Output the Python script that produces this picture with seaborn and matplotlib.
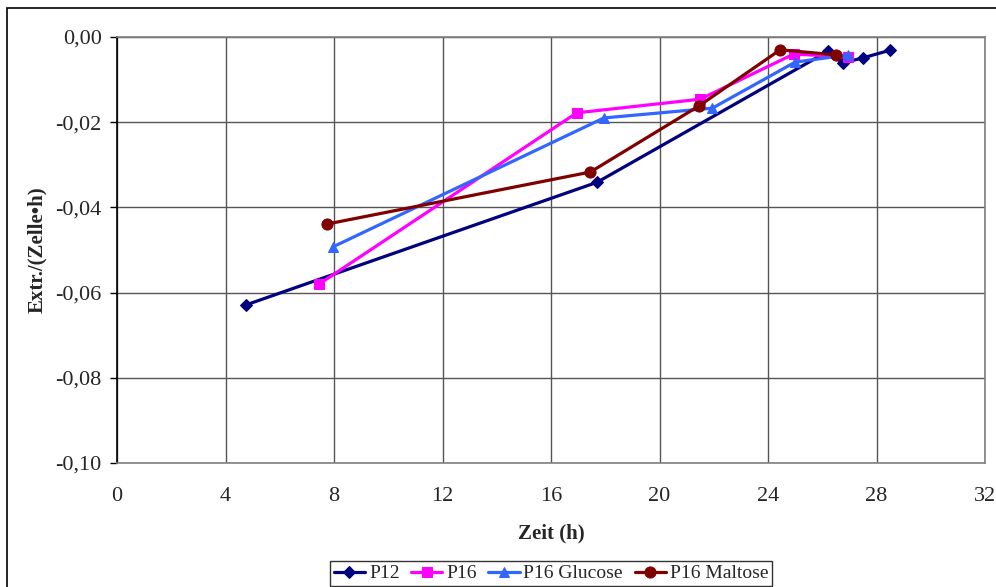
"""Extraction rate per cell over time for P12 / P16 cultures."""

import matplotlib.pyplot as plt
import pandas as pd
import seaborn as sns
from matplotlib.patches import Rectangle
from matplotlib.ticker import FuncFormatter, MultipleLocator

p12_t = [4.75, 17.7, 26.2, 26.75, 27.5, 28.5]
p12_v = [-0.0629, -0.0341, -0.0034, -0.0061, -0.0049, -0.0031]

p16_t = [7.45, 16.95, 21.5, 24.95, 26.95]
p16_v = [-0.0580, -0.0178, -0.0146, -0.0040, -0.0047]

p16_glc_t = [7.95, 17.95, 21.95, 25.0, 26.95]
p16_glc_v = [-0.0493, -0.0190, -0.0167, -0.0059, -0.0042]

p16_mal_t = [7.75, 17.45, 21.45, 24.45, 26.5]
p16_mal_v = [-0.0439, -0.0317, -0.0162, -0.0030, -0.0042]

series_names = ["P12", "P16", "P16 Glucose", "P16 Maltose"]
colors = ["#000080", "#FF00FF", "#3366FF", "#800000"]
markers = ["D", "s", "^", "o"]
marker_sizes = [6.5, 7, 7.5, 8]

frames = []
for name, t, v in zip(
    series_names,
    [p12_t, p16_t, p16_glc_t, p16_mal_t],
    [p12_v, p16_v, p16_glc_v, p16_mal_v],
):
    frames.append(pd.DataFrame({"Zeit": t, "Extr": v, "Serie": name}))
df = pd.concat(frames, ignore_index=True)

sns.set_theme(style="white")
plt.rcParams["font.family"] = ["Liberation Serif", "DejaVu Serif"]

fig = plt.figure(figsize=(9.96, 5.87), dpi=100)
ax = fig.add_axes([117 / 996, 1 - 463 / 587, (985 - 117) / 996, (463 - 37) / 587])

for name, color, marker, ms in zip(series_names, colors, markers, marker_sizes):
    sub = df[df["Serie"] == name]
    sns.lineplot(
        data=sub, x="Zeit", y="Extr", ax=ax, color=color, marker=marker,
        markersize=ms, markeredgecolor=color, linewidth=2.3, label=name,
        sort=False, estimator=None,
    )

ax.set_xlim(0, 32)
ax.set_ylim(-0.10, 0.0)
ax.xaxis.set_major_locator(MultipleLocator(4))
ax.yaxis.set_major_locator(MultipleLocator(0.02))
ax.yaxis.set_major_formatter(FuncFormatter(lambda v, _: f"{v:.2f}".replace(".", ",").replace("-0,00", "0,00")))
ax.grid(True, color="#555555", linewidth=1.0)
ax.set_axisbelow(True)

for side in ["top", "right", "bottom"]:
    ax.spines[side].set_color("#808080")
    ax.spines[side].set_linewidth(1.2)
ax.spines["left"].set_color("black")
ax.spines["left"].set_linewidth(1.2)

ax.tick_params(axis="y", which="major", left=True, length=5, width=1, color="black",
               labelsize=16, pad=6)
ax.tick_params(axis="x", which="major", bottom=False, labelsize=16, pad=11)

ax.set_xlabel("Zeit (h)", fontsize=15, fontweight="bold", labelpad=13)
ax.set_ylabel("Extr./(Zelle\u2022h)", fontsize=15, fontweight="bold", labelpad=6)

leg = ax.legend(
    loc="upper center", bbox_to_anchor=(551 / 996, (587 - 561) / 587),
    bbox_transform=fig.transFigure, ncol=4, fontsize=14, frameon=True,
    fancybox=False, edgecolor="black", handlelength=1.6, handletextpad=0.2,
    columnspacing=0.6, borderpad=0.2, borderaxespad=0,
)
leg.get_frame().set_linewidth(1.0)

# outer chart frame
fig.patches.append(Rectangle((7 / 996, -0.05), 1.2, 1 - 8 / 587 + 0.05,
                             transform=fig.transFigure, fill=False,
                             edgecolor="black", linewidth=1.2))

fig.savefig("out.png", dpi=100)
